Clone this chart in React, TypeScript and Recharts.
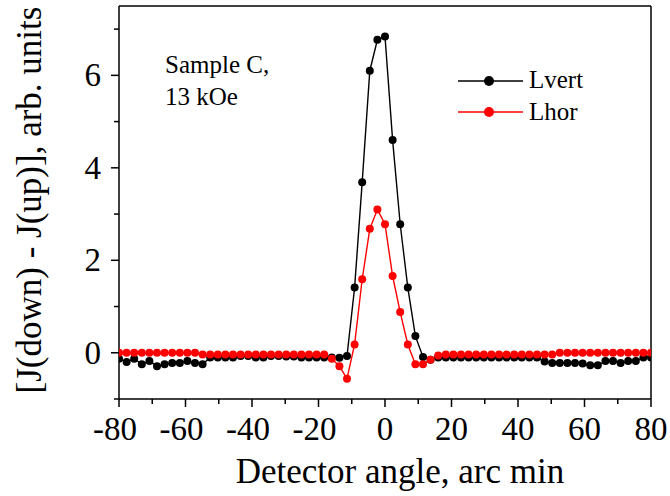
import { CartesianGrid, Line, LineChart, ReferenceLine, XAxis, YAxis } from "recharts";

const angles = [
  -80, -77.71, -75.43, -73.14, -70.86, -68.57, -66.29, -64, -61.71, -59.43,
  -57.14, -54.86, -52.57, -50.29, -48, -45.71, -43.43, -41.14, -38.86, -36.57,
  -34.29, -32, -29.71, -27.43, -25.14, -22.86, -20.57, -18.29, -16, -13.71,
  -11.43, -9.14, -6.86, -4.57, -2.29, 0, 2.29, 4.57, 6.86, 9.14,
  11.43, 13.71, 16, 18.29, 20.57, 22.86, 25.14, 27.43, 29.71, 32,
  34.29, 36.57, 38.86, 41.14, 43.43, 45.71, 48, 50.29, 52.57, 54.86,
  57.14, 59.43, 61.71, 64, 66.29, 68.57, 70.86, 73.14, 75.43, 77.71,
  80,
];

const lvert = [
  -0.13, -0.2, -0.13, -0.25, -0.18, -0.29, -0.25, -0.22, -0.22, -0.18,
  -0.22, -0.25, -0.1, -0.1, -0.1, -0.1, -0.07, -0.07, -0.1, -0.1,
  -0.07, -0.07, -0.08, -0.08, -0.1, -0.1, -0.1, -0.1, -0.1, -0.11,
  -0.07, 1.41, 3.69, 6.1, 6.77, 6.84, 4.6, 2.78, 1.41, 0.36,
  -0.09, -0.15, -0.1, -0.1, -0.1, -0.1, -0.1, -0.1, -0.1, -0.1,
  -0.1, -0.1, -0.1, -0.1, -0.1, -0.1, -0.19, -0.22, -0.22, -0.22,
  -0.22, -0.23, -0.27, -0.27, -0.18, -0.18, -0.22, -0.18, -0.18, -0.1,
  -0.1,
];

const lhor = [
  0, 0, 0, 0, 0, 0, 0, 0, 0, 0,
  0, -0.04, -0.04, -0.04, -0.04, -0.04, -0.04, -0.04, -0.04, -0.04,
  -0.04, -0.04, -0.04, -0.04, -0.04, -0.04, -0.04, -0.04, -0.13, -0.29,
  -0.56, 0.18, 1.59, 2.68, 3.1, 2.78, 1.66, 0.88, 0.18, -0.25,
  -0.25, -0.15, -0.06, -0.04, -0.04, -0.04, -0.04, -0.04, -0.04, -0.04,
  -0.04, -0.04, -0.04, -0.04, -0.04, -0.04, -0.04, -0.04, 0, 0,
  0, 0, 0, 0, 0, 0, 0, 0, 0, 0,
  0,
];

const xTicks = [-80, -70, -60, -50, -40, -30, -20, -10, 0, 10, 20, 30, 40, 50, 60, 70, 80];
const yTicks = [-1, 0, 1, 2, 3, 4, 5, 6, 7];

const data = angles.map((x, i) => ({ x, lvert: lvert[i], lhor: lhor[i] }));

const FONT = "Liberation Serif, DejaVu Serif, serif";
const txt = { fontFamily: FONT, fill: "#000" };

function XTick(props: any) {
  const { x, y, payload } = props;
  const major = payload.value % 20 === 0;
  const shift = payload.value < 0 ? -4 : 0;
  return (
    <g>
      <line x1={x} x2={x} y1={y} y2={y + (major ? 8 : 5)} stroke="#000" strokeWidth={1.5} />
      {major && (
        <text x={x + shift} y={y + 41} textAnchor="middle" style={{ ...txt, fontSize: 33 }}>
          {payload.value}
        </text>
      )}
    </g>
  );
}

function YTick(props: any) {
  const { x, y, payload } = props;
  const major = payload.value % 2 === 0;
  return (
    <g>
      <line x1={x} x2={x - (major ? 8 : 5)} y1={y} y2={y} stroke="#000" strokeWidth={1.5} />
      {major && (
        <text x={x - 18} y={y + 11} textAnchor="end" style={{ ...txt, fontSize: 33 }}>
          {payload.value}
        </text>
      )}
    </g>
  );
}

export default function App() {
  return (
    <div style={{ position: "absolute", left: 0, top: 0, width: 670, height: 496, background: "#fff", fontFamily: FONT }}>
      <LineChart width={670} height={496} data={data} margin={{ top: 6, right: 19, left: 0, bottom: 0 }}>
        <CartesianGrid stroke="none" />
        <XAxis
          type="number"
          dataKey="x"
          domain={[-80, 80]}
          ticks={xTicks}
          interval={0}
          height={97}
          tickSize={0}
          tickMargin={0}
          tick={<XTick />}
          axisLine={{ stroke: "#000", strokeWidth: 1.5 }}
          allowDataOverflow
        />
        <YAxis
          type="number"
          domain={[-1, 7.5]}
          ticks={yTicks}
          interval={0}
          width={119}
          tickSize={0}
          tickMargin={0}
          tick={<YTick />}
          axisLine={{ stroke: "#000", strokeWidth: 1.5 }}
          allowDataOverflow
        />
        <ReferenceLine y={7.5} stroke="#000" strokeWidth={1.5} />
        <ReferenceLine x={80} stroke="#000" strokeWidth={1.5} />
        <Line
          dataKey="lvert"
          stroke="#000"
          strokeWidth={1.4}
          dot={{ r: 4, fill: "#000", stroke: "none" }}
          activeDot={false}
          isAnimationActive={false}
        />
        <Line
          dataKey="lhor"
          stroke="#ff0000"
          strokeWidth={1.4}
          dot={{ r: 4, fill: "#ff0000", stroke: "none" }}
          activeDot={false}
          isAnimationActive={false}
        />
      </LineChart>
      <svg
        width={670}
        height={496}
        style={{ position: "absolute", left: 0, top: 0, pointerEvents: "none", fontFamily: FONT }}
      >
        <text x={165} y={73} style={{ ...txt, fontSize: 25 }}>Sample C,</text>
        <text x={165} y={105} style={{ ...txt, fontSize: 25 }}>13 kOe</text>

        <line x1={458} x2={523} y1={81} y2={81} stroke="#000" strokeWidth={1.5} />
        <circle cx={489} cy={81} r={5} fill="#000" />
        <text x={529} y={88} style={{ ...txt, fontSize: 25 }}>Lvert</text>
        <line x1={458} x2={523} y1={112} y2={112} stroke="#ff0000" strokeWidth={1.5} />
        <circle cx={489} cy={112} r={5} fill="#ff0000" />
        <text x={529} y={120} style={{ ...txt, fontSize: 25 }}>Lhor</text>

        <text x={400} y={483} textAnchor="middle" style={{ ...txt, fontSize: 35 }}>
          Detector angle, arc min
        </text>
        <text transform="translate(41,200) rotate(-90)" textAnchor="middle" style={{ ...txt, fontSize: 35 }}>
          [J(down) - J(up)], arb. units
        </text>
      </svg>
    </div>
  );
}
